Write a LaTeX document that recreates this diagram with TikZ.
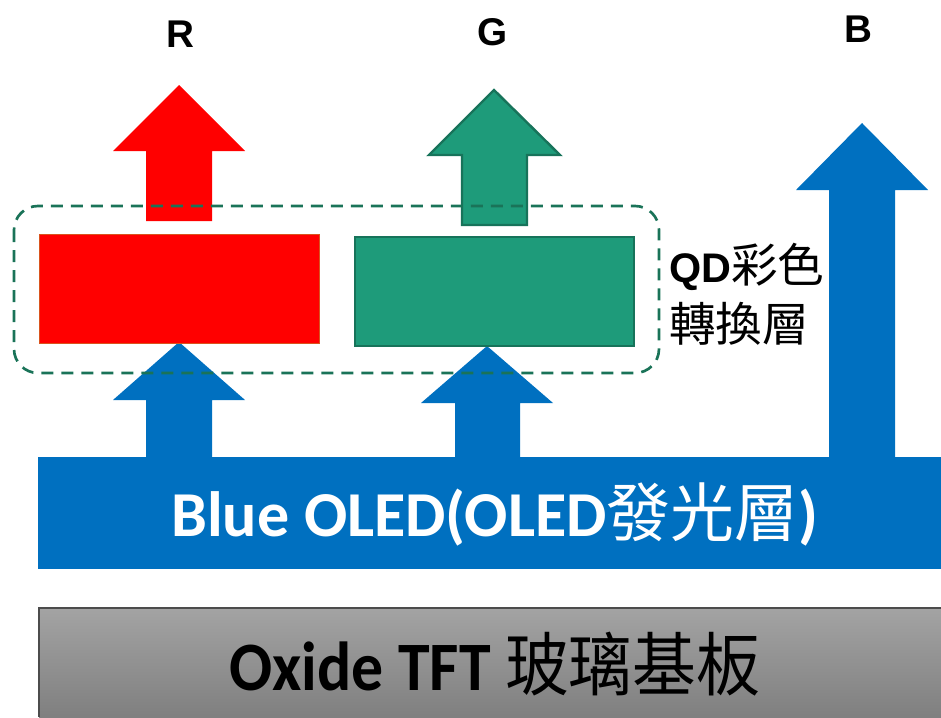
\documentclass[tikz,border=0pt]{standalone}
\usepackage{fontspec}
\setmainfont{Carlito}
\newfontfamily\cjk{Noto Sans CJK TC}
\newfontfamily\arial{Liberation Sans}
\definecolor{oledblue}{HTML}{0070C0}
\definecolor{qdgreen}{HTML}{1E9B7A}
\definecolor{qdgreendark}{HTML}{17735A}
\definecolor{dashgreen}{HTML}{1A7358}
\definecolor{redborder}{HTML}{D9541E}
\tikzset{
  bluearrow/.style={fill=oledblue, draw=none},
  redfill/.style={fill=red, draw=none},
  greenfill/.style={fill=qdgreen, draw=qdgreendark, line width=2.2pt},
  lbl/.style={font=\arial\fontsize{29}{34}\selectfont\bfseries, inner sep=0pt},
}
\begin{document}
\begin{tikzpicture}[x=0.75pt,y=-0.75pt]
\useasboundingbox (0,0) rectangle (941,717);
% TFT substrate
\shade[top color=black!36, bottom color=black!50] (39,608) rectangle (941,717);
\draw[black!70, line width=1.5pt] (39,717) -- (39,608) -- (941,608);
\node[inner sep=0pt, xscale=0.92, font=\fontsize{52}{58}\selectfont] (tft) at (495,664) {\textbf{Oxide TFT} {\cjk 玻璃基板}};
% Blue OLED bar
\fill[oledblue] (38,457) rectangle (941,569);
\node[inner sep=0pt, text=white, font=\fontsize{48}{54}\selectfont] (oled) at (495,514) {\textbf{Blue OLED(OLED}{\cjk 發光層}\textbf{)}};
% blue arrows into QD
\fill[bluearrow] (146,458) -- (146,400) -- (113,400) -- (179,342) -- (245,400) -- (212,400) -- (212,458) -- cycle;
\fill[bluearrow] (455,458) -- (455,403) -- (421,403) -- (487,346) -- (553,403) -- (520,403) -- (520,458) -- cycle;
% B arrow
\fill[bluearrow] (829,458) -- (829,190) -- (796,190) -- (862,123) -- (928,190) -- (895,190) -- (895,458) -- cycle;
% R output arrow
\fill[redfill] (146,221) -- (146,151) -- (113,151) -- (179,85) -- (245,151) -- (212,151) -- (212,221) -- cycle;
% G output arrow
\draw[greenfill, line width=1.8pt] (462,225) -- (462,155) -- (429,155) -- (494,90) -- (560,155) -- (527,155) -- (527,225) -- cycle;
% QD layer rectangles
\draw[fill=red, draw=redborder, line width=0.6pt] (39,234) rectangle (319,343);
\draw[greenfill] (355,237) rectangle (634,346);
% dashed box
\draw[dashgreen, line width=2pt, dash pattern=on 9pt off 6pt, rounded corners=18pt] (14,206) rectangle (659,373);
% labels
\node[lbl] (R) at (180,34) {R};
\node[lbl] (G) at (493,32) {G};
\node[lbl] (B) at (858,29) {B};
\node[inner sep=0pt, anchor=west] (qd1) at (669,267) {{\arial\bfseries\fontsize{31}{36}\selectfont QD}{\cjk\fontsize{35}{38}\selectfont 彩色}};
\node[inner sep=0pt, anchor=west] (qd2) at (669,324) {\cjk\fontsize{35}{38}\selectfont 轉換層};
\end{tikzpicture}
\end{document}
